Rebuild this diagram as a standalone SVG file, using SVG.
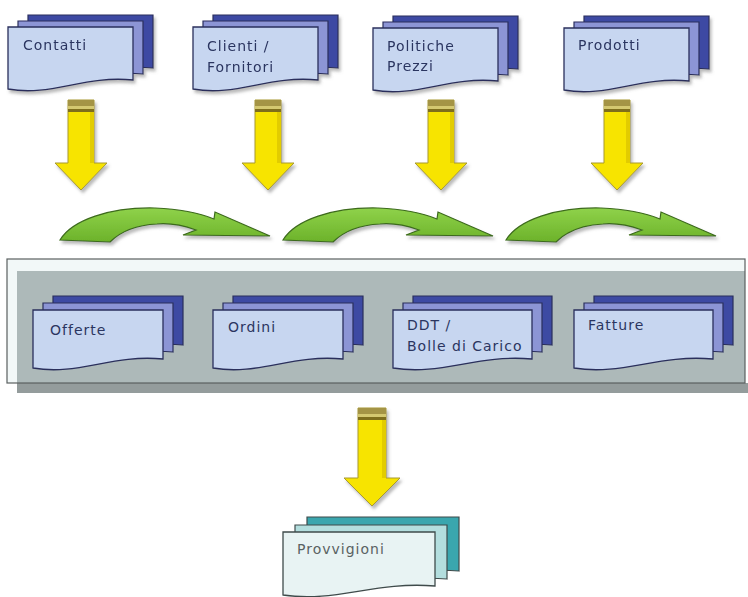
<svg xmlns="http://www.w3.org/2000/svg" xmlns:xlink="http://www.w3.org/1999/xlink" width="748" height="597" viewBox="0 0 748 597">
<style>
.back{fill:#3d4aa3;stroke:#2a2f5c;stroke-width:1.2}
.mid{fill:#8c95d5;stroke:#2a2f5c;stroke-width:1.2}
.front{fill:#c7d6f0;stroke:#2a2f5c;stroke-width:1.3}
.tback{fill:#3aa6ae;stroke:#3f4b4b;stroke-width:1.2}
.tmid{fill:#b3dede;stroke:#3f4b4b;stroke-width:1.2}
.tfront{fill:#e8f3f3;stroke:#3f4b4b;stroke-width:1.3}
.lbl{font-family:"DejaVu Sans",Verdana,sans-serif;font-size:14px;letter-spacing:1px;fill:#2b3560}
.lblg{font-family:"DejaVu Sans",Verdana,sans-serif;font-size:14px;letter-spacing:1px;fill:#5a6262}
.yel{fill:#f7e400;stroke:#a89a30;stroke-width:1}
.grn{fill:url(#gg);stroke:#3c6a1c;stroke-width:1.2}
</style>
<defs>
<linearGradient id="gg" x1="0" y1="0" x2="0" y2="1">
<stop offset="0" stop-color="#8fd24a"/><stop offset="1" stop-color="#6cb22a"/>
</linearGradient>
<filter id="sh" x="-10%" y="-10%" width="130%" height="140%">
<feDropShadow dx="2" dy="3" stdDeviation="1.5" flood-color="#777" flood-opacity="0.5"/>
</filter>
<path id="d125" d="M0,0 H125 V53 C75,48 43.75,70 0,62 Z"/>
<path id="d130" d="M0,0 H130 V49 C78,44 45.5,66 0,58 Z"/>
<path id="d139" d="M0,0 H139 V49 C83.4,44 48.65,66 0,58 Z"/>
<path id="d152" d="M0,0 H152 V54 C91,49 53,71 0,63 Z"/>
<g id="yarrow">
<path class="yel" d="M0,0 H26 V63 H39 L13,90 L-13,63 H0 Z"/>
<rect x="0" y="0" width="26" height="6" fill="#a49444"/>
<rect x="0" y="6" width="26" height="3" fill="#d4c870"/>
<rect x="0" y="9" width="26" height="3" fill="#7e6e1c"/>
<rect x="22" y="12" width="4" height="51" fill="#e2cc00"/>
</g>
<path id="garrow" class="grn" d="M60,240 C72,220 110,207 155,208 C182,209 202,214 214,219 L215,212 L270,236 L183,235 L196,230 C182,225 168,223 157,224 C136,225 120,232 110,242 Z"/>
</defs>
<rect width="748" height="597" fill="#ffffff"/>

<g id="panel">
<rect x="17" y="383" width="731" height="10" fill="#949c9c"/>
<rect x="7" y="259" width="738" height="124" fill="#f2f8f8"/>
<rect x="17" y="271" width="728" height="112" fill="#adb9b9"/>
<rect x="7" y="259" width="738" height="124" fill="none" stroke="#5a6060" stroke-width="1.2"/>
</g>

<g id="node-contatti" transform="translate(8,27)" filter="url(#sh)">
<use xlink:href="#d125" class="back" transform="translate(20,-12)"/>
<use xlink:href="#d125" class="mid" transform="translate(10,-6)"/>
<use xlink:href="#d125" class="front"/>
<text class="lbl" x="15" y="23">Contatti</text>
</g>
<g id="node-clienti" transform="translate(193,27)" filter="url(#sh)">
<use xlink:href="#d125" class="back" transform="translate(20,-12)"/>
<use xlink:href="#d125" class="mid" transform="translate(10,-6)"/>
<use xlink:href="#d125" class="front"/>
<text class="lbl" x="14" y="24">Clienti /</text>
<text class="lbl" x="14" y="45">Fornitori</text>
</g>
<g id="node-politiche" transform="translate(373,28)" filter="url(#sh)">
<use xlink:href="#d125" class="back" transform="translate(20,-12)"/>
<use xlink:href="#d125" class="mid" transform="translate(10,-6)"/>
<use xlink:href="#d125" class="front"/>
<text class="lbl" x="14" y="23">Politiche</text>
<text class="lbl" x="14" y="43">Prezzi</text>
</g>
<g id="node-prodotti" transform="translate(564,28)" filter="url(#sh)">
<use xlink:href="#d125" class="back" transform="translate(20,-12)"/>
<use xlink:href="#d125" class="mid" transform="translate(10,-6)"/>
<use xlink:href="#d125" class="front"/>
<text class="lbl" x="14" y="22">Prodotti</text>
</g>

<g id="node-offerte" transform="translate(33,310)">
<use xlink:href="#d130" class="back" transform="translate(20,-14)"/>
<use xlink:href="#d130" class="mid" transform="translate(10,-7)"/>
<use xlink:href="#d130" class="front"/>
<text class="lbl" x="17" y="25">Offerte</text>
</g>
<g id="node-ordini" transform="translate(213,310)">
<use xlink:href="#d130" class="back" transform="translate(20,-14)"/>
<use xlink:href="#d130" class="mid" transform="translate(10,-7)"/>
<use xlink:href="#d130" class="front"/>
<text class="lbl" x="15" y="22">Ordini</text>
</g>
<g id="node-ddt" transform="translate(393,310)">
<use xlink:href="#d139" class="back" transform="translate(20,-14)"/>
<use xlink:href="#d139" class="mid" transform="translate(10,-7)"/>
<use xlink:href="#d139" class="front"/>
<text class="lbl" x="14" y="20">DDT /</text>
<text class="lbl" x="14" y="41">Bolle di Carico</text>
</g>
<g id="node-fatture" transform="translate(574,310)">
<use xlink:href="#d139" class="back" transform="translate(20,-14)"/>
<use xlink:href="#d139" class="mid" transform="translate(10,-7)"/>
<use xlink:href="#d139" class="front"/>
<text class="lbl" x="14" y="20">Fatture</text>
</g>

<g id="node-provvigioni" transform="translate(283,532)">
<use xlink:href="#d152" class="tback" transform="translate(24,-15)"/>
<use xlink:href="#d152" class="tmid" transform="translate(12,-7)"/>
<use xlink:href="#d152" class="tfront"/>
<text class="lblg" x="14" y="22">Provvigioni</text>
</g>

<g id="connectors" filter="url(#sh)">
<use xlink:href="#yarrow" transform="translate(68,100)"/>
<use xlink:href="#yarrow" transform="translate(255,100)"/>
<use xlink:href="#yarrow" transform="translate(428,100)"/>
<use xlink:href="#yarrow" transform="translate(604,100)"/>
<g transform="translate(358,408)">
<path class="yel" d="M0,0 H28 V70 H42 L14,98 L-14,70 H0 Z"/>
<rect x="0" y="0" width="28" height="6" fill="#a49444"/>
<rect x="0" y="6" width="28" height="3" fill="#d4c870"/>
<rect x="0" y="9" width="28" height="3" fill="#7e6e1c"/>
<rect x="24" y="12" width="4" height="58" fill="#e2cc00"/>
</g>
<use xlink:href="#garrow"/>
<use xlink:href="#garrow" transform="translate(223,0)"/>
<use xlink:href="#garrow" transform="translate(446,0)"/>
</g>
</svg>
